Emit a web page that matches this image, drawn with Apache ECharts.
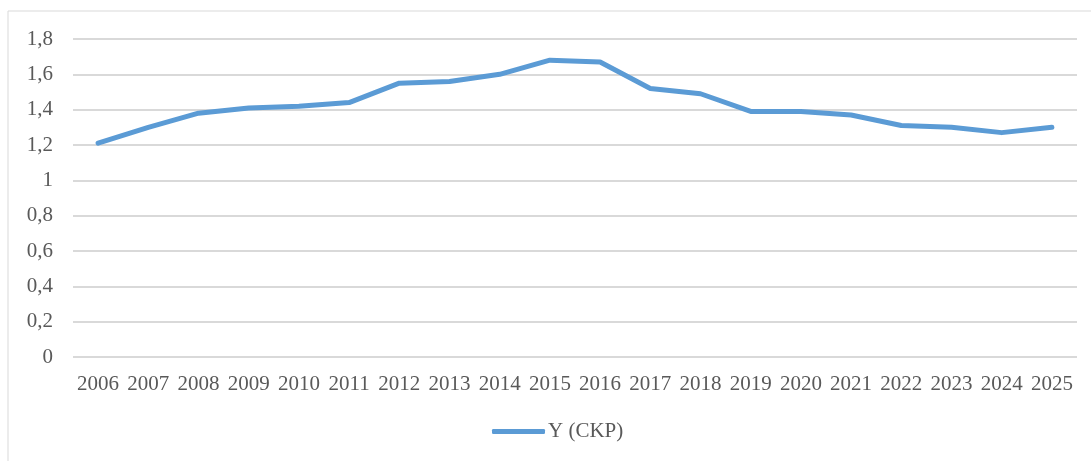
<!DOCTYPE html>
<html>
<head>
<meta charset="utf-8">
<script src="https://cdn.jsdelivr.net/npm/echarts@6/dist/echarts.min.js"></script>
<style>
html, body { margin: 0; padding: 0; background: #fff; }
#main { width: 1091px; height: 461px; }
</style>
</head>
<body>
<div id="main"></div>
<script>
// годы и значения Y (СКР)
var years = ['2006', '2007', '2008', '2009', '2010', '2011', '2012', '2013', '2014', '2015',
             '2016', '2017', '2018', '2019', '2020', '2021', '2022', '2023', '2024', '2025'];
var yValues = [1.21, 1.30, 1.38, 1.41, 1.42, 1.44, 1.55, 1.56, 1.60, 1.68,
               1.67, 1.52, 1.49, 1.39, 1.39, 1.37, 1.31, 1.30, 1.27, 1.30];
var seriesName = 'Y (CKP)';

var font = 'Liberation Serif, Times New Roman, serif';
var chart = echarts.init(document.getElementById('main'));

chart.setOption({
    animation: false,
    backgroundColor: '#fff',
    graphic: [{
        type: 'rect',
        shape: { x: 8, y: 11, width: 1100, height: 470 },
        style: { fill: 'none', stroke: '#d9d9d9', lineWidth: 1 },
        silent: true
    }],
    grid: { left: 73, right: 14, top: 39, bottom: 104, containLabel: false },
    legend: {
        data: [seriesName],
        left: 492,
        top: 421,
        padding: 0,
        icon: 'roundRect',
        itemWidth: 53,
        itemHeight: 5,
        itemGap: 10,
        textStyle: { fontFamily: font, fontSize: 21, color: '#595959', padding: [0, 0, 0, -2] }
    },
    xAxis: {
        type: 'category',
        data: years,
        boundaryGap: true,
        axisLine: { show: false },
        axisTick: { show: false },
        axisLabel: { interval: 0, margin: 17, fontFamily: font, fontSize: 21, color: '#595959' }
    },
    yAxis: {
        type: 'value',
        min: 0,
        max: 1.8,
        interval: 0.2,
        axisLine: { show: false },
        axisTick: { show: false },
        axisLabel: {
            margin: 20,
            fontFamily: font,
            fontSize: 21,
            color: '#595959',
            formatter: function (v) { return String(Math.round(v * 10) / 10).replace('.', ','); }
        },
        splitLine: { lineStyle: { color: '#d9d9d9', width: 2 } }
    },
    series: [{
        name: seriesName,
        type: 'line',
        data: yValues,
        symbol: 'none',
        lineStyle: { color: '#5b9bd5', width: 5, cap: 'round', join: 'round' },
        itemStyle: { color: '#5b9bd5' }
    }]
});
</script>
</body>
</html>
